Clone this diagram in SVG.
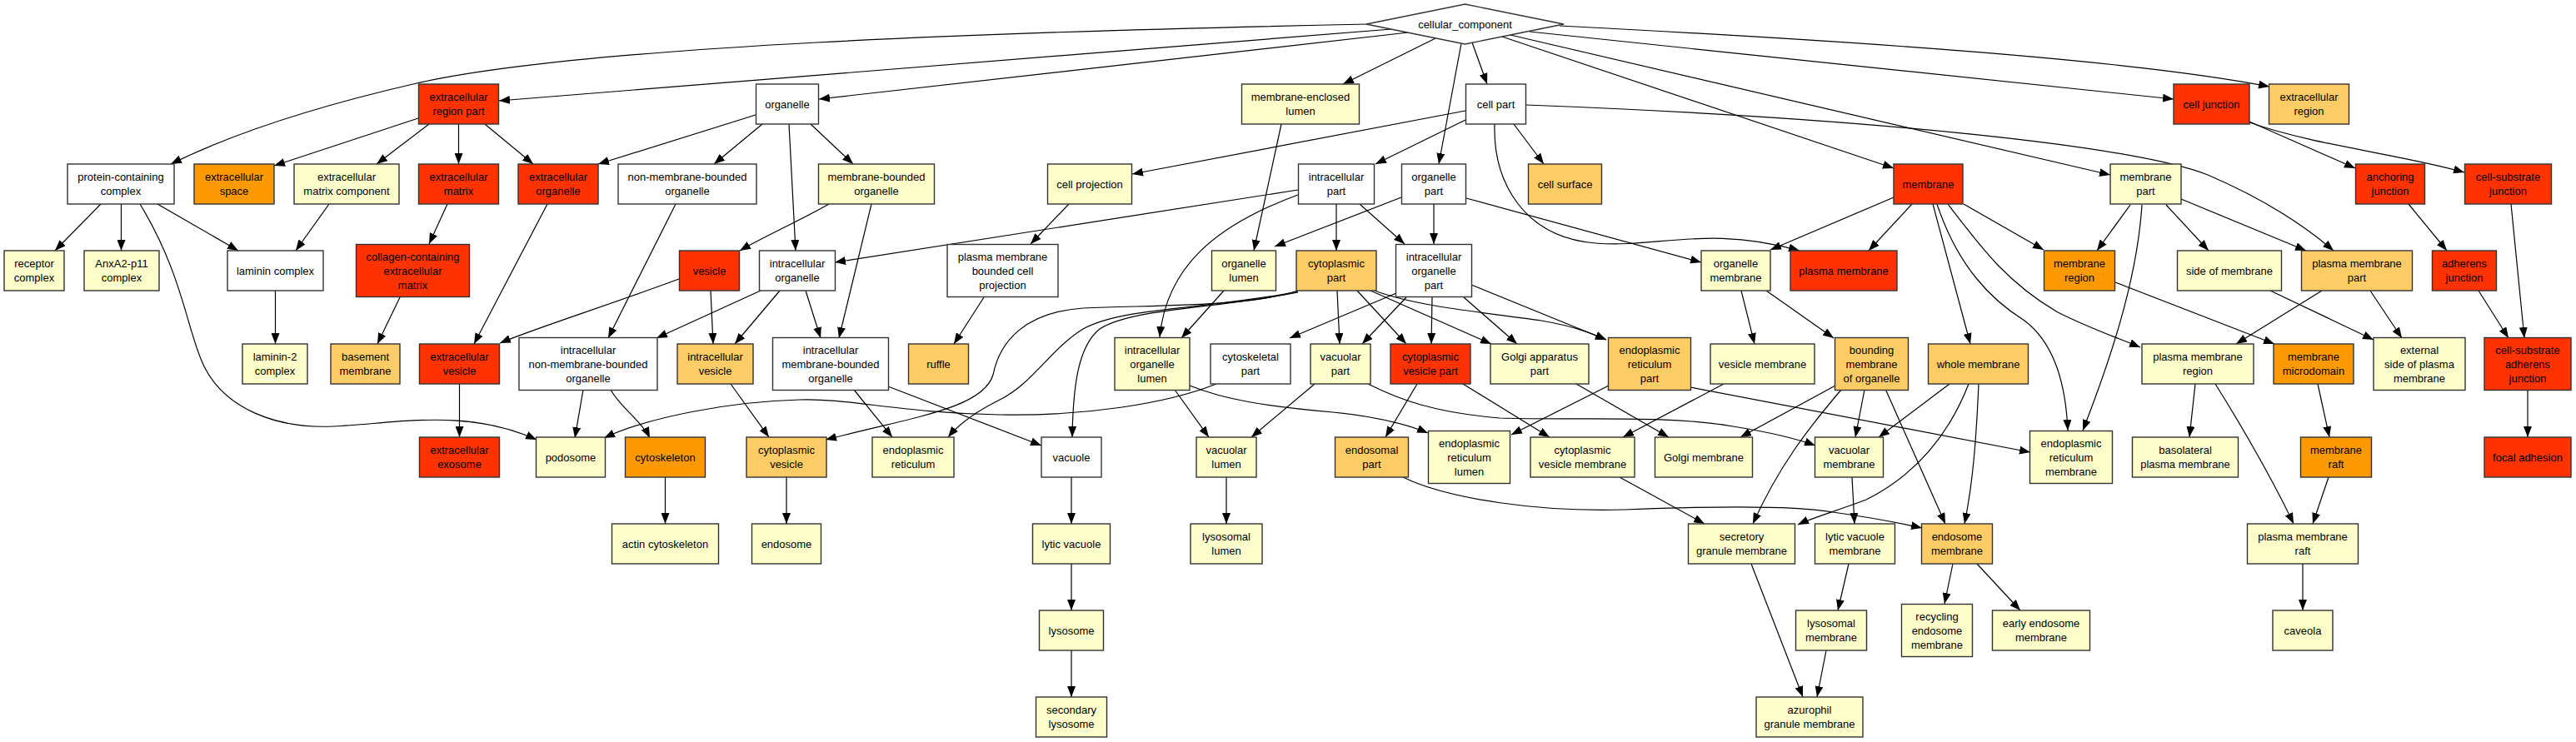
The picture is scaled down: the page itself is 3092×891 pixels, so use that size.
<svg xmlns="http://www.w3.org/2000/svg" width="3092" height="891" viewBox="0 0 3092 891">
<style>
.n rect,.n polygon{stroke:#333;stroke-width:1.4}
.r{fill:#FF3300}.o{fill:#FF9900}.lo{fill:#FFCC66}.ly{fill:#FFFFCC}.w{fill:#FFFFFF}
text{font-family:"Liberation Sans",Arial,sans-serif;font-size:13px;text-anchor:middle;fill:#000}
#edges path{fill:none;stroke:#000;stroke-width:1.2;marker-end:url(#a)}
</style>
<defs>
<marker id="a" markerUnits="userSpaceOnUse" viewBox="0 0 13 10" markerWidth="13" markerHeight="10" refX="13" refY="5" orient="auto"><path d="M0,0 L13,5 L0,10 z" fill="#000"/></marker>
</defs>
<rect width="3092" height="891" fill="#fff"/>
<g id="edges">
<path d="M1641,29 C1200,38 700,55 500,100 C400,123 290,155 205,197"/>
<path d="M1670,35 L599,121"/>
<path d="M1690,39 L983,119"/>
<path d="M1723,46 L1612,101"/>
<path d="M1754,52 L1727,197"/>
<path d="M1767,51 L1785,101"/>
<path d="M1803,44 L2273,202"/>
<path d="M1813,42 L2533,210"/>
<path d="M1836,38 L2609,119"/>
<path d="M1872,31 C2200,48 2550,70 2724,104"/>
<path d="M1759,133 L1359,209"/>
<path d="M1759,144 L1651,197"/>
<path d="M1817,149 L1853,197"/>
<path d="M1794,149 C1792,220 1830,285 1915,292 C1990,298 2050,270 2160,301"/>
<path d="M1832,126 C2250,142 2560,175 2650,210 C2720,240 2765,270 2801,301"/>
<path d="M1721,245 L1721,293"/>
<path d="M1760,238 L2042,315"/>
<path d="M1682,237 L1530,296"/>
<path d="M1604,245 L1604,301"/>
<path d="M1632,245 L1686,293"/>
<path d="M1558,228 L1002,315"/>
<path d="M1558,234 C1460,270 1400,320 1392,405"/>
<path d="M1538,149 L1505,301"/>
<path d="M915,149 L857,197"/>
<path d="M947,149 L955,301"/>
<path d="M973,149 L1024,197"/>
<path d="M907,138 L718,197"/>
<path d="M502,142 L329,199"/>
<path d="M515,149 L452,197"/>
<path d="M550.5,149 L550.5,197"/>
<path d="M582,149 L640,197"/>
<path d="M121,245 L66,301"/>
<path d="M145.5,245 L145.5,301"/>
<path d="M189,245 L286,301"/>
<path d="M168,245 C220,330 225,400 245,440 C270,490 330,515 400,512 C480,508 560,490 644,528"/>
<path d="M395,245 L355,301"/>
<path d="M330.5,349 L330.5,413"/>
<path d="M537,245 L515,293"/>
<path d="M480,357 L453,413"/>
<path d="M657,245 L569,413"/>
<path d="M551.5,461 L551.5,525"/>
<path d="M811,245 L730,406"/>
<path d="M995,245 C960,265 915,285 888,301"/>
<path d="M1046,245 L1007,406"/>
<path d="M913,349 L788,406"/>
<path d="M936,349 L882,413"/>
<path d="M967,349 L985,406"/>
<path d="M853,349 L856,413"/>
<path d="M815,335 C720,370 640,395 600,412"/>
<path d="M700,468 L690,526"/>
<path d="M733,468 C745,490 770,505 780,526"/>
<path d="M1460,461 C1400,485 1300,500 1200,498 C1080,496 1020,478 960,480 C880,482 780,500 725,526"/>
<path d="M1558,349 C1500,368 1400,366 1300,370 C1230,375 1200,410 1192,450 C1180,490 1100,500 991,528"/>
<path d="M1558,350 C1450,372 1350,368 1300,395 C1260,420 1240,460 1200,480 C1170,495 1150,510 1138,525"/>
<path d="M1558,351 C1450,372 1360,370 1320,395 C1295,415 1288,460 1287,525"/>
<path d="M1605,349 L1608,413"/>
<path d="M1629,349 L1688,413"/>
<path d="M1645,349 L1790,413"/>
<path d="M1650,349 C1700,368 1780,375 1850,385 C1890,392 1910,400 1928,408"/>
<path d="M1676,352 L1548,406"/>
<path d="M1688,357 L1635,413"/>
<path d="M1719,357 L1718,413"/>
<path d="M1757,357 L1821,413"/>
<path d="M1766,342 L1928,408"/>
<path d="M1578,461 L1502,525"/>
<path d="M1642,461 C1680,480 1720,495 1800,502 C1900,505 2000,498 2080,512 C2130,520 2160,528 2179,535"/>
<path d="M1428,463 C1470,480 1520,488 1600,495 C1650,500 1690,510 1714,520"/>
<path d="M1410,468 L1451,525"/>
<path d="M1469,349 L1418,406"/>
<path d="M1701,461 L1663,525"/>
<path d="M1756,461 L1860,525"/>
<path d="M1892,461 L2003,525"/>
<path d="M1931,463 L1814,522"/>
<path d="M2029,465 L2437,543"/>
<path d="M2069,461 L1948,525"/>
<path d="M2203,463 L2089,525"/>
<path d="M2210,468 C2170,515 2135,560 2104,629"/>
<path d="M2238,468 L2227,525"/>
<path d="M2263,467 L2335,629"/>
<path d="M2340,461 L2255,525"/>
<path d="M2363,461 C2340,520 2300,570 2240,600 C2200,615 2175,622 2158,630"/>
<path d="M2375,461 C2372,530 2368,580 2358,629"/>
<path d="M2273,237 L2125,300"/>
<path d="M2295,245 L2243,301"/>
<path d="M2320,245 L2365,413"/>
<path d="M2325,245 C2350,320 2390,360 2430,385 C2470,415 2480,470 2482,517"/>
<path d="M2338,245 C2380,300 2410,340 2470,375 C2510,395 2540,405 2569,417"/>
<path d="M2357,245 L2453,300"/>
<path d="M2557,246 L2517,301"/>
<path d="M2571,246 C2565,340 2530,440 2500,517"/>
<path d="M2600,246 L2651,301"/>
<path d="M2618,239 L2768,301"/>
<path d="M2700,146 L2827,202"/>
<path d="M2700,147 C2780,175 2880,185 2958,207"/>
<path d="M2891,245 L2937,301"/>
<path d="M3014,245 L3030,406"/>
<path d="M2975,349 L3011,406"/>
<path d="M3034,468 L3034,525"/>
<path d="M2539,339 L2730,413"/>
<path d="M2725,349 L2849,408"/>
<path d="M2787,349 L2684,413"/>
<path d="M2845,349 L2883,406"/>
<path d="M2635,461 L2628,525"/>
<path d="M2659,461 C2690,510 2730,580 2753,629"/>
<path d="M2782,461 L2796,525"/>
<path d="M2795,573 L2776,629"/>
<path d="M2764,677 L2764,733"/>
<path d="M2090,349 L2106,413"/>
<path d="M2120,349 L2201,406"/>
<path d="M1025,468 L1071,525"/>
<path d="M1066,464 L1250,535"/>
<path d="M877,461 L923,525"/>
<path d="M944,573 L944,629"/>
<path d="M1286,573 L1286,629"/>
<path d="M1286,677 L1286,733"/>
<path d="M1286,781 L1286,837"/>
<path d="M1472,573 L1472,629"/>
<path d="M798.5,573 L798.5,629"/>
<path d="M1283,245 L1237,293"/>
<path d="M1181,357 L1145,413"/>
<path d="M1684,573 C1740,600 1850,615 1950,612 C2050,608 2150,606 2200,615 C2250,622 2280,628 2307,634"/>
<path d="M1944,573 L2046,629"/>
<path d="M2223,573 L2226,629"/>
<path d="M2102,677 L2164,837"/>
<path d="M2219,677 L2206,733"/>
<path d="M2192,781 L2181,837"/>
<path d="M2344,677 L2334,725"/>
<path d="M2373,677 L2425,733"/>
</g>
<g id="n_cellular_component" class="n"><polygon class="w" points="1640,29 1758.5,5 1877,29 1758.5,53"/><text x="1758.5" y="33.5">cellular_component</text></g>
<g id="n_ecrp" class="n"><rect class="r" x="502.5" y="101" width="96" height="48"/><text x="550.5" y="121">extracellular<tspan x="550.5" dy="17">region part</tspan></text></g>
<g id="n_organelle" class="n"><rect class="w" x="907.5" y="101" width="75" height="48"/><text x="945" y="129.5">organelle</text></g>
<g id="n_mel" class="n"><rect class="ly" x="1490.5" y="101" width="141" height="48"/><text x="1561" y="121">membrane-enclosed<tspan x="1561" dy="17">lumen</tspan></text></g>
<g id="n_cell_part" class="n"><rect class="w" x="1759.5" y="101" width="72" height="48"/><text x="1795.5" y="129.5">cell part</text></g>
<g id="n_cell_junction" class="n"><rect class="r" x="2609" y="101" width="91" height="48"/><text x="2654.5" y="129.5">cell junction</text></g>
<g id="n_ext_region" class="n"><rect class="lo" x="2723.5" y="101" width="96" height="48"/><text x="2771.5" y="121">extracellular<tspan x="2771.5" dy="17">region</tspan></text></g>
<g id="n_pcc" class="n"><rect class="w" x="81" y="197" width="128" height="48"/><text x="145" y="217">protein-containing<tspan x="145" dy="17">complex</tspan></text></g>
<g id="n_ext_space" class="n"><rect class="o" x="233" y="197" width="96" height="48"/><text x="281" y="217">extracellular<tspan x="281" dy="17">space</tspan></text></g>
<g id="n_ecm_comp" class="n"><rect class="ly" x="353" y="197" width="126" height="48"/><text x="416" y="217">extracellular<tspan x="416" dy="17">matrix component</tspan></text></g>
<g id="n_ecm" class="n"><rect class="r" x="502.5" y="197" width="96" height="48"/><text x="550.5" y="217">extracellular<tspan x="550.5" dy="17">matrix</tspan></text></g>
<g id="n_ext_organelle" class="n"><rect class="r" x="622" y="197" width="96" height="48"/><text x="670" y="217">extracellular<tspan x="670" dy="17">organelle</tspan></text></g>
<g id="n_nmbo" class="n"><rect class="w" x="742" y="197" width="166" height="48"/><text x="825" y="217">non-membrane-bounded<tspan x="825" dy="17">organelle</tspan></text></g>
<g id="n_mbo" class="n"><rect class="ly" x="982.5" y="197" width="139" height="48"/><text x="1052" y="217">membrane-bounded<tspan x="1052" dy="17">organelle</tspan></text></g>
<g id="n_cell_projection" class="n"><rect class="ly" x="1257.5" y="197" width="101" height="48"/><text x="1308" y="225.5">cell projection</text></g>
<g id="n_intracellular_part" class="n"><rect class="w" x="1558.5" y="197" width="91" height="48"/><text x="1604" y="217">intracellular<tspan x="1604" dy="17">part</tspan></text></g>
<g id="n_organelle_part" class="n"><rect class="w" x="1682.5" y="197" width="77" height="48"/><text x="1721" y="217">organelle<tspan x="1721" dy="17">part</tspan></text></g>
<g id="n_cell_surface" class="n"><rect class="lo" x="1834.5" y="197" width="88" height="48"/><text x="1878.5" y="225.5">cell surface</text></g>
<g id="n_membrane" class="n"><rect class="r" x="2273" y="197" width="83" height="48"/><text x="2314.5" y="225.5">membrane</text></g>
<g id="n_membrane_part" class="n"><rect class="ly" x="2533" y="197" width="85" height="48"/><text x="2575.5" y="217">membrane<tspan x="2575.5" dy="17">part</tspan></text></g>
<g id="n_anchoring" class="n"><rect class="r" x="2827.5" y="197" width="83" height="48"/><text x="2869" y="217">anchoring<tspan x="2869" dy="17">junction</tspan></text></g>
<g id="n_csj" class="n"><rect class="r" x="2958.5" y="197" width="104" height="48"/><text x="3010.5" y="217">cell-substrate<tspan x="3010.5" dy="17">junction</tspan></text></g>
<g id="n_receptor" class="n"><rect class="ly" x="5" y="301" width="72" height="48"/><text x="41" y="321">receptor<tspan x="41" dy="17">complex</tspan></text></g>
<g id="n_anxa2" class="n"><rect class="ly" x="101" y="301" width="90" height="48"/><text x="146" y="321">AnxA2-p11<tspan x="146" dy="17">complex</tspan></text></g>
<g id="n_laminin" class="n"><rect class="w" x="273" y="301" width="115" height="48"/><text x="330.5" y="329.5">laminin complex</text></g>
<g id="n_collagen" class="n"><rect class="r" x="427.5" y="293.5" width="136" height="63"/><text x="495.5" y="312.5">collagen-containing<tspan x="495.5" dy="17">extracellular</tspan><tspan x="495.5" dy="17">matrix</tspan></text></g>
<g id="n_vesicle" class="n"><rect class="r" x="815.5" y="301" width="72" height="48"/><text x="851.5" y="329.5">vesicle</text></g>
<g id="n_io" class="n"><rect class="w" x="911.5" y="301" width="91" height="48"/><text x="957" y="321">intracellular<tspan x="957" dy="17">organelle</tspan></text></g>
<g id="n_pmbcp" class="n"><rect class="w" x="1137" y="293.5" width="133" height="63"/><text x="1203.5" y="312.5">plasma membrane<tspan x="1203.5" dy="17">bounded cell</tspan><tspan x="1203.5" dy="17">projection</tspan></text></g>
<g id="n_organelle_lumen" class="n"><rect class="ly" x="1454.5" y="301" width="77" height="48"/><text x="1493" y="321">organelle<tspan x="1493" dy="17">lumen</tspan></text></g>
<g id="n_cytoplasmic_part" class="n"><rect class="lo" x="1556" y="301" width="96" height="48"/><text x="1604" y="321">cytoplasmic<tspan x="1604" dy="17">part</tspan></text></g>
<g id="n_iop" class="n"><rect class="w" x="1675.5" y="293.5" width="91" height="63"/><text x="1721" y="312.5">intracellular<tspan x="1721" dy="17">organelle</tspan><tspan x="1721" dy="17">part</tspan></text></g>
<g id="n_organelle_membrane" class="n"><rect class="ly" x="2042" y="301" width="83" height="48"/><text x="2083.5" y="321">organelle<tspan x="2083.5" dy="17">membrane</tspan></text></g>
<g id="n_plasma_membrane" class="n"><rect class="r" x="2149" y="301" width="128" height="48"/><text x="2213" y="329.5">plasma membrane</text></g>
<g id="n_membrane_region" class="n"><rect class="o" x="2453.5" y="301" width="85" height="48"/><text x="2496" y="321">membrane<tspan x="2496" dy="17">region</tspan></text></g>
<g id="n_side_of_membrane" class="n"><rect class="ly" x="2613.5" y="301" width="125" height="48"/><text x="2676" y="329.5">side of membrane</text></g>
<g id="n_pm_part" class="n"><rect class="lo" x="2762.5" y="301" width="133" height="48"/><text x="2829" y="321">plasma membrane<tspan x="2829" dy="17">part</tspan></text></g>
<g id="n_adherens" class="n"><rect class="r" x="2919.5" y="301" width="77" height="48"/><text x="2958" y="321">adherens<tspan x="2958" dy="17">junction</tspan></text></g>
<g id="n_laminin2" class="n"><rect class="ly" x="291" y="413" width="78" height="48"/><text x="330" y="433">laminin-2<tspan x="330" dy="17">complex</tspan></text></g>
<g id="n_basement" class="n"><rect class="lo" x="397" y="413" width="83" height="48"/><text x="438.5" y="433">basement<tspan x="438.5" dy="17">membrane</tspan></text></g>
<g id="n_ev" class="n"><rect class="r" x="503.5" y="413" width="96" height="48"/><text x="551.5" y="433">extracellular<tspan x="551.5" dy="17">vesicle</tspan></text></g>
<g id="n_inmbo" class="n"><rect class="w" x="623" y="405.5" width="166" height="63"/><text x="706" y="424.5">intracellular<tspan x="706" dy="17">non-membrane-bounded</tspan><tspan x="706" dy="17">organelle</tspan></text></g>
<g id="n_iv" class="n"><rect class="lo" x="813" y="413" width="91" height="48"/><text x="858.5" y="433">intracellular<tspan x="858.5" dy="17">vesicle</tspan></text></g>
<g id="n_imbo" class="n"><rect class="w" x="927.5" y="405.5" width="139" height="63"/><text x="997" y="424.5">intracellular<tspan x="997" dy="17">membrane-bounded</tspan><tspan x="997" dy="17">organelle</tspan></text></g>
<g id="n_ruffle" class="n"><rect class="lo" x="1090.5" y="413" width="72" height="48"/><text x="1126.5" y="441.5">ruffle</text></g>
<g id="n_iol" class="n"><rect class="ly" x="1338" y="405.5" width="90" height="63"/><text x="1383" y="424.5">intracellular<tspan x="1383" dy="17">organelle</tspan><tspan x="1383" dy="17">lumen</tspan></text></g>
<g id="n_cytoskeletal_part" class="n"><rect class="w" x="1453" y="413" width="96" height="48"/><text x="1501" y="433">cytoskeletal<tspan x="1501" dy="17">part</tspan></text></g>
<g id="n_vacuolar_part" class="n"><rect class="ly" x="1573" y="413" width="72" height="48"/><text x="1609" y="433">vacuolar<tspan x="1609" dy="17">part</tspan></text></g>
<g id="n_cvp" class="n"><rect class="r" x="1669" y="413" width="96" height="48"/><text x="1717" y="433">cytoplasmic<tspan x="1717" dy="17">vesicle part</tspan></text></g>
<g id="n_golgi_ap" class="n"><rect class="ly" x="1789" y="413" width="118" height="48"/><text x="1848" y="433">Golgi apparatus<tspan x="1848" dy="17">part</tspan></text></g>
<g id="n_er_part" class="n"><rect class="lo" x="1930.5" y="405.5" width="99" height="63"/><text x="1980" y="424.5">endoplasmic<tspan x="1980" dy="17">reticulum</tspan><tspan x="1980" dy="17">part</tspan></text></g>
<g id="n_vesicle_membrane" class="n"><rect class="ly" x="2053" y="413" width="125" height="48"/><text x="2115.5" y="441.5">vesicle membrane</text></g>
<g id="n_bounding" class="n"><rect class="lo" x="2202.5" y="405.5" width="88" height="63"/><text x="2246.5" y="424.5">bounding<tspan x="2246.5" dy="17">membrane</tspan><tspan x="2246.5" dy="17">of organelle</tspan></text></g>
<g id="n_whole_membrane" class="n"><rect class="lo" x="2314.5" y="413" width="120" height="48"/><text x="2374.5" y="441.5">whole membrane</text></g>
<g id="n_pm_region" class="n"><rect class="ly" x="2571" y="413" width="134" height="48"/><text x="2638" y="433">plasma membrane<tspan x="2638" dy="17">region</tspan></text></g>
<g id="n_microdomain" class="n"><rect class="o" x="2729" y="413" width="96" height="48"/><text x="2777" y="433">membrane<tspan x="2777" dy="17">microdomain</tspan></text></g>
<g id="n_external_side" class="n"><rect class="ly" x="2849" y="405.5" width="110" height="63"/><text x="2904" y="424.5">external<tspan x="2904" dy="17">side of plasma</tspan><tspan x="2904" dy="17">membrane</tspan></text></g>
<g id="n_csaj" class="n"><rect class="r" x="2982" y="405.5" width="104" height="63"/><text x="3034" y="424.5">cell-substrate<tspan x="3034" dy="17">adherens</tspan><tspan x="3034" dy="17">junction</tspan></text></g>
<g id="n_exosome" class="n"><rect class="r" x="503.5" y="525" width="96" height="48"/><text x="551.5" y="545">extracellular<tspan x="551.5" dy="17">exosome</tspan></text></g>
<g id="n_podosome" class="n"><rect class="ly" x="643.5" y="525" width="83" height="48"/><text x="685" y="553.5">podosome</text></g>
<g id="n_cytoskeleton" class="n"><rect class="o" x="750.5" y="525" width="96" height="48"/><text x="798.5" y="553.5">cytoskeleton</text></g>
<g id="n_cyto_vesicle" class="n"><rect class="lo" x="896" y="525" width="96" height="48"/><text x="944" y="545">cytoplasmic<tspan x="944" dy="17">vesicle</tspan></text></g>
<g id="n_er" class="n"><rect class="ly" x="1047" y="525" width="98" height="48"/><text x="1096" y="545">endoplasmic<tspan x="1096" dy="17">reticulum</tspan></text></g>
<g id="n_vacuole" class="n"><rect class="w" x="1250" y="525" width="72" height="48"/><text x="1286" y="553.5">vacuole</text></g>
<g id="n_vacuolar_lumen" class="n"><rect class="ly" x="1436" y="525" width="72" height="48"/><text x="1472" y="545">vacuolar<tspan x="1472" dy="17">lumen</tspan></text></g>
<g id="n_endosomal_part" class="n"><rect class="lo" x="1602.5" y="525" width="88" height="48"/><text x="1646.5" y="545">endosomal<tspan x="1646.5" dy="17">part</tspan></text></g>
<g id="n_er_lumen" class="n"><rect class="ly" x="1714.5" y="517.5" width="98" height="63"/><text x="1763.5" y="536.5">endoplasmic<tspan x="1763.5" dy="17">reticulum</tspan><tspan x="1763.5" dy="17">lumen</tspan></text></g>
<g id="n_cvm" class="n"><rect class="ly" x="1837" y="525" width="125" height="48"/><text x="1899.5" y="545">cytoplasmic<tspan x="1899.5" dy="17">vesicle membrane</tspan></text></g>
<g id="n_golgi_membrane" class="n"><rect class="ly" x="1986.5" y="525" width="117" height="48"/><text x="2045" y="553.5">Golgi membrane</text></g>
<g id="n_vacuolar_membrane" class="n"><rect class="ly" x="2178.5" y="525" width="82" height="48"/><text x="2219.5" y="545">vacuolar<tspan x="2219.5" dy="17">membrane</tspan></text></g>
<g id="n_er_membrane" class="n"><rect class="ly" x="2436.5" y="517.5" width="99" height="63"/><text x="2486" y="536.5">endoplasmic<tspan x="2486" dy="17">reticulum</tspan><tspan x="2486" dy="17">membrane</tspan></text></g>
<g id="n_basolateral" class="n"><rect class="ly" x="2559.5" y="525" width="127" height="48"/><text x="2623" y="545">basolateral<tspan x="2623" dy="17">plasma membrane</tspan></text></g>
<g id="n_membrane_raft" class="n"><rect class="o" x="2761.5" y="525" width="85" height="48"/><text x="2804" y="545">membrane<tspan x="2804" dy="17">raft</tspan></text></g>
<g id="n_focal_adhesion" class="n"><rect class="r" x="2982" y="525" width="104" height="48"/><text x="3034" y="553.5">focal adhesion</text></g>
<g id="n_actin" class="n"><rect class="ly" x="734.5" y="629" width="128" height="48"/><text x="798.5" y="657.5">actin cytoskeleton</text></g>
<g id="n_endosome" class="n"><rect class="ly" x="902.5" y="629" width="83" height="48"/><text x="944" y="657.5">endosome</text></g>
<g id="n_lytic_vacuole" class="n"><rect class="ly" x="1239.5" y="629" width="93" height="48"/><text x="1286" y="657.5">lytic vacuole</text></g>
<g id="n_lysosomal_lumen" class="n"><rect class="ly" x="1429" y="629" width="86" height="48"/><text x="1472" y="649">lysosomal<tspan x="1472" dy="17">lumen</tspan></text></g>
<g id="n_secretory" class="n"><rect class="ly" x="2026.5" y="629" width="128" height="48"/><text x="2090.5" y="649">secretory<tspan x="2090.5" dy="17">granule membrane</tspan></text></g>
<g id="n_lvm" class="n"><rect class="ly" x="2178.5" y="629" width="96" height="48"/><text x="2226.5" y="649">lytic vacuole<tspan x="2226.5" dy="17">membrane</tspan></text></g>
<g id="n_endosome_membrane" class="n"><rect class="lo" x="2306.5" y="629" width="85" height="48"/><text x="2349" y="649">endosome<tspan x="2349" dy="17">membrane</tspan></text></g>
<g id="n_pm_raft" class="n"><rect class="ly" x="2697.5" y="629" width="133" height="48"/><text x="2764" y="649">plasma membrane<tspan x="2764" dy="17">raft</tspan></text></g>
<g id="n_lysosome" class="n"><rect class="ly" x="1247.5" y="733" width="77" height="48"/><text x="1286" y="761.5">lysosome</text></g>
<g id="n_lysosomal_membrane" class="n"><rect class="ly" x="2155.5" y="733" width="85" height="48"/><text x="2198" y="753">lysosomal<tspan x="2198" dy="17">membrane</tspan></text></g>
<g id="n_recycling" class="n"><rect class="ly" x="2282.5" y="725.5" width="85" height="63"/><text x="2325" y="744.5">recycling<tspan x="2325" dy="17">endosome</tspan><tspan x="2325" dy="17">membrane</tspan></text></g>
<g id="n_early_endosome" class="n"><rect class="ly" x="2391.5" y="733" width="117" height="48"/><text x="2450" y="753">early endosome<tspan x="2450" dy="17">membrane</tspan></text></g>
<g id="n_caveola" class="n"><rect class="ly" x="2728" y="733" width="72" height="48"/><text x="2764" y="761.5">caveola</text></g>
<g id="n_secondary_lysosome" class="n"><rect class="ly" x="1243.5" y="837" width="85" height="48"/><text x="1286" y="857">secondary<tspan x="1286" dy="17">lysosome</tspan></text></g>
<g id="n_azurophil" class="n"><rect class="ly" x="2108" y="837" width="128" height="48"/><text x="2172" y="857">azurophil<tspan x="2172" dy="17">granule membrane</tspan></text></g>
</svg>
